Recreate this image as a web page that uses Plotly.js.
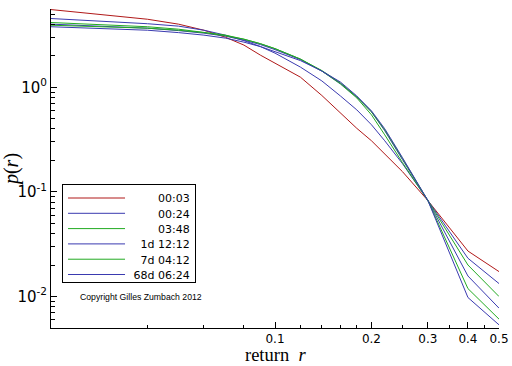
<!DOCTYPE html>
<html><head><meta charset="utf-8">
<script src="https://cdn.plot.ly/plotly-3.0.1.min.js"></script>
<style>html,body{margin:0;padding:0;background:#fff}#chart{width:512px;height:366px}</style>
</head><body><div id="chart"></div>
<script>
// return r (x values)
const returns = [0.02,0.03,0.04,0.05,0.06,0.07,0.08,0.09,0.1,0.12,0.14,0.16,0.18,0.2,0.22,0.25,0.3,0.4,0.5];
// p(r) per time horizon
const p_0003 = [5.53,4.88,4.47,4.01,3.51,3.01,2.53,2.03,1.71,1.25,0.835,0.565,0.405,0.308,0.232,0.156,0.0826,0.0272,0.0173];
const p_0024 = [4.54,4.28,4.05,3.84,3.51,3.15,2.79,2.45,2.12,1.56,1.15,0.826,0.608,0.438,0.308,0.186,0.0826,0.0232,0.0133];
const p_0348 = [4.16,3.96,3.79,3.59,3.36,3.15,2.88,2.61,2.34,1.86,1.43,1.075,0.791,0.545,0.351,0.190,0.0826,0.0200,0.0100];
const p_1d   = [4.01,3.84,3.67,3.48,3.29,3.08,2.82,2.56,2.29,1.84,1.43,1.087,0.808,0.582,0.384,0.203,0.0826,0.0157,0.00774];
const p_7d   = [3.92,3.79,3.67,3.51,3.33,3.11,2.88,2.61,2.34,1.86,1.445,1.099,0.808,0.582,0.392,0.208,0.0826,0.0119,0.00608];
const p_68d  = [3.79,3.63,3.51,3.33,3.15,2.95,2.70,2.45,2.19,1.80,1.43,1.123,0.826,0.595,0.401,0.212,0.0826,0.00978,0.00536];

const seriesNames = ['00:03','00:24','03:48','1d 12:12','7d 04:12','68d 06:24'];
const xTickVals = [0.1,0.2,0.3,0.4,0.5];
const xTickText = ['0.1','0.2','0.3','0.4','0.5'];
const xMinorVals = [0.04,0.06,0.08,0.12,0.14,0.16,0.18,0.25,0.35,0.45];
const yTickVals = [0.01,0.1,1];
const yTickText = ['10<sup>-2</sup>','10<sup>-1</sup>','10<sup>0</sup>'];
const yMinorVals = [0.006,0.007,0.008,0.009,0.02,0.03,0.04,0.05,0.06,0.07,0.08,0.09,0.2,0.3,0.4,0.5,0.6,0.7,0.8,0.9,2,3,4,5];
const xTitle = 'return&nbsp;&nbsp;<i>r</i>';
const yTitle = '<i>p</i>(<i>r</i>)';
const copyrightText = 'Copyright Gilles Zumbach 2012';

const seriesValues = [p_0003,p_0024,p_0348,p_1d,p_7d,p_68d];
const colors = ['#b01818','#3a3ab0','#22aa22','#3a3ab0','#22aa22','#3a3ab0'];

// right-align legend labels with non-breaking spaces (DejaVu: digit ~ 2 spaces)
function units(s){let u=0;for(const c of s){u+=(c===' '||c===':')?1:2;}return u;}
const maxU = Math.max(...seriesNames.map(units));
const padded = seriesNames.map(s => '\u00a0'.repeat(maxU-units(s)+1) + s);

const traces = seriesValues.map((v,i)=>({
  x: returns, y: v, type:'scatter', mode:'lines', name: padded[i],
  line:{color:colors[i], width:1}
}));

const layout = {
  width:512, height:366,
  margin:{l:51, r:13, t:9, b:38},
  paper_bgcolor:'#fff', plot_bgcolor:'#fff',
  showlegend:true,
  xaxis:{
    type:'log', range:[Math.log10(0.02), Math.log10(0.5)],
    tickmode:'array', tickvals:xTickVals, ticktext:xTickText,
    ticks:'inside', ticklen:6, tickcolor:'#000', tickwidth:1,
    minor:{tickvals:xMinorVals, ticks:'inside', ticklen:3, tickcolor:'#000', showgrid:false},
    showline:true, linecolor:'#000', linewidth:1, showgrid:false, zeroline:false,
    tickfont:{family:'DejaVu Sans', size:12, color:'#000'}
  },
  yaxis:{
    type:'log', range:[Math.log10(0.005), Math.log10(5.6)],
    tickmode:'array', tickvals:yTickVals, ticktext:yTickText,
    ticks:'inside', ticklen:6, tickcolor:'#000', tickwidth:1,
    minor:{tickvals:yMinorVals, ticks:'inside', ticklen:4, tickcolor:'#000', showgrid:false},
    showline:true, linecolor:'#000', linewidth:1, showgrid:false, zeroline:false,
    tickfont:{family:'DejaVu Sans', size:15, color:'#000'},
    title:{text:yTitle, font:{family:'Liberation Serif', size:20, color:'#000'}, standoff:2}
  },
  legend:{
    x:0.0246, y:0.4514, xanchor:'left', yanchor:'top',
    bordercolor:'#000', borderwidth:1, bgcolor:'#fff',
    font:{family:'DejaVu Sans', size:11, color:'#000'},
    itemwidth:57, tracegroupgap:0
  },
  annotations:[{
    text:copyrightText, xref:'paper', yref:'paper', x:0.0603, y:0.097,
    xanchor:'left', yanchor:'middle', showarrow:false,
    font:{family:'Liberation Sans', size:8.7, color:'#000'}
  },{
    text:xTitle, xref:'paper', yref:'paper', x:0.5, y:-0.0846,
    xanchor:'center', yanchor:'middle', showarrow:false,
    font:{family:'Liberation Serif', size:18.5, color:'#000'}
  }]
};
Plotly.newPlot('chart', traces, layout, {staticPlot:true, displayModeBar:false}).then(gd => {
  // tighten legend row spacing to match the reference
  const rowGap = 15.3, firstRow = 14, boxH = 98;
  gd.querySelectorAll('.legend .traces').forEach((el,i) => {
    const m = /translate\(\s*([-\d.]+)/.exec(el.getAttribute('transform') || '');
    const x = m ? parseFloat(m[1]) : 0;
    el.setAttribute('transform', 'translate(' + x + ',' + (firstRow + rowGap*i) + ')');
  });
  const bg = gd.querySelector('.legend .bg');
  if (bg) bg.setAttribute('height', boxH);
});
</script></body></html>
